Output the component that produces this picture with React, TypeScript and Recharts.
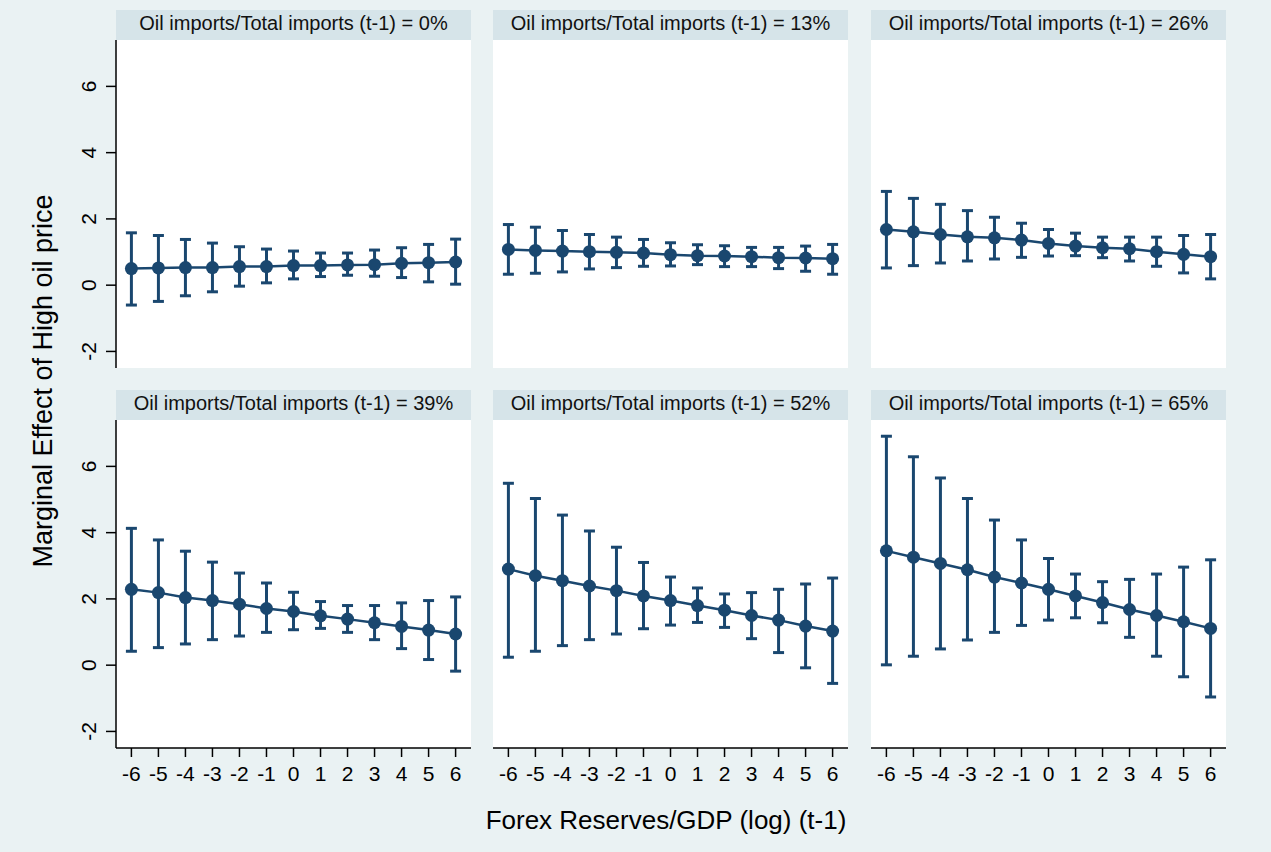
import { LineChart, Line, XAxis, YAxis, ErrorBar } from 'recharts'

const navy = '#1a476f'

// x values: Forex Reserves/GDP (log) (t-1)
const xValues = [-6, -5, -4, -3, -2, -1, 0, 1, 2, 3, 4, 5, 6]
const xTicks = [-6, -5, -4, -3, -2, -1, 0, 1, 2, 3, 4, 5, 6]
const yTicks = [-2, 0, 2, 4, 6]

const panelTitles = [
  'Oil imports/Total imports (t-1) = 0%',
  'Oil imports/Total imports (t-1) = 13%',
  'Oil imports/Total imports (t-1) = 26%',
  'Oil imports/Total imports (t-1) = 39%',
  'Oil imports/Total imports (t-1) = 52%',
  'Oil imports/Total imports (t-1) = 65%',
]

// marginal effects + 95% CI bounds per panel
const est0 = [0.5, 0.52, 0.53, 0.53, 0.56, 0.56, 0.59, 0.59, 0.61, 0.62, 0.66, 0.68, 0.7]
const hi0 = [1.58, 1.5, 1.38, 1.27, 1.16, 1.09, 1.03, 0.97, 0.97, 1.06, 1.13, 1.23, 1.39]
const lo0 = [-0.6, -0.49, -0.32, -0.2, -0.03, 0.07, 0.19, 0.26, 0.3, 0.27, 0.23, 0.1, 0.03]

const est13 = [1.08, 1.05, 1.03, 1.01, 0.99, 0.97, 0.92, 0.89, 0.88, 0.86, 0.83, 0.82, 0.8]
const hi13 = [1.83, 1.75, 1.65, 1.53, 1.45, 1.38, 1.28, 1.22, 1.19, 1.14, 1.14, 1.18, 1.23]
const lo13 = [0.33, 0.36, 0.4, 0.49, 0.53, 0.57, 0.58, 0.62, 0.56, 0.56, 0.5, 0.42, 0.33]

const est26 = [1.68, 1.61, 1.53, 1.46, 1.43, 1.36, 1.26, 1.18, 1.13, 1.1, 1.01, 0.93, 0.86]
const hi26 = [2.83, 2.62, 2.44, 2.25, 2.05, 1.87, 1.68, 1.57, 1.45, 1.45, 1.45, 1.5, 1.53]
const lo26 = [0.52, 0.59, 0.67, 0.73, 0.79, 0.84, 0.88, 0.89, 0.83, 0.73, 0.57, 0.37, 0.19]

const est39 = [2.29, 2.19, 2.04, 1.95, 1.84, 1.71, 1.62, 1.49, 1.39, 1.28, 1.17, 1.06, 0.94]
const hi39 = [4.13, 3.78, 3.44, 3.11, 2.78, 2.48, 2.2, 1.92, 1.8, 1.8, 1.88, 1.95, 2.06]
const lo39 = [0.42, 0.53, 0.64, 0.77, 0.88, 0.99, 1.07, 1.11, 0.99, 0.77, 0.5, 0.17, -0.18]

const est52 = [2.9, 2.7, 2.55, 2.39, 2.25, 2.09, 1.95, 1.8, 1.66, 1.5, 1.36, 1.18, 1.03]
const hi52 = [5.49, 5.03, 4.53, 4.05, 3.56, 3.1, 2.66, 2.33, 2.15, 2.19, 2.29, 2.45, 2.63]
const lo52 = [0.24, 0.42, 0.59, 0.77, 0.94, 1.1, 1.21, 1.29, 1.14, 0.8, 0.38, -0.08, -0.55]

const est65 = [3.45, 3.26, 3.07, 2.88, 2.66, 2.48, 2.29, 2.09, 1.89, 1.68, 1.5, 1.31, 1.11]
const hi65 = [6.91, 6.29, 5.65, 5.03, 4.38, 3.78, 3.22, 2.75, 2.52, 2.59, 2.75, 2.96, 3.18]
const lo65 = [0.01, 0.27, 0.49, 0.76, 0.99, 1.2, 1.36, 1.43, 1.28, 0.84, 0.27, -0.35, -0.96]

const buildRows = (est: number[], hi: number[], lo: number[]) =>
  xValues.map((x, i) => ({ x, y: est[i], err: [est[i] - lo[i], hi[i] - est[i]] }))

const panels = [
  buildRows(est0, hi0, lo0),
  buildRows(est13, hi13, lo13),
  buildRows(est26, hi26, lo26),
  buildRows(est39, hi39, lo39),
  buildRows(est52, hi52, lo52),
  buildRows(est65, hi65, lo65),
]

const colLeft = [116, 493, 871]
const rowTop = [40, 420]
const plotW = 355
const plotH = 328
const yAxisW = 50
const xAxisH = 50

function RotatedTick(props: any) {
  const { x, y, payload } = props
  return (
    <text x={x} y={y} transform={`rotate(-90 ${x} ${y})`} textAnchor="middle" fontSize={21} fill="#000">
      {payload.value}
    </text>
  )
}

function XTick(props: any) {
  const { x, y, payload } = props
  return (
    <text x={x} y={y + 22} textAnchor="middle" fontSize={21} fill="#000">
      {payload.value}
    </text>
  )
}

function Panel({ idx }: { idx: number }) {
  const col = idx % 3
  const row = Math.floor(idx / 3)
  const showY = col === 0
  const showX = row === 1
  const left = colLeft[col]
  const top = rowTop[row]
  return (
    <>
      <div style={{ position: 'absolute', left, top: top - 30, width: plotW, height: 30, background: '#d6e4e9', textAlign: 'center', fontSize: 20, lineHeight: '27px', color: '#111' }}>
        {panelTitles[idx]}
      </div>
      <div style={{ position: 'absolute', left, top, width: plotW, height: plotH, background: '#fff' }} />
      <div style={{ position: 'absolute', left: showY ? left - yAxisW : left, top }}>
        <LineChart
          width={plotW + (showY ? yAxisW : 0)}
          height={plotH + (showX ? xAxisH : 0)}
          data={panels[idx]}
          margin={{ top: 0, right: 0, bottom: 0, left: 0 }}
        >
          <XAxis
            dataKey="x"
            type="number"
            domain={[-6.57, 6.57]}
            ticks={xTicks}
            allowDataOverflow
            hide={!showX}
            height={xAxisH}
            axisLine={{ stroke: '#000', strokeWidth: 1.5 }}
            tickLine={{ stroke: '#000', strokeWidth: 1.5 }}
            tickSize={9}
            tickMargin={2}
            tick={<XTick />}
          />
          <YAxis
            type="number"
            domain={[-2.5, 7.4]}
            ticks={yTicks}
            allowDataOverflow
            hide={!showY}
            width={yAxisW}
            axisLine={{ stroke: '#000', strokeWidth: 1.5 }}
            tickLine={{ stroke: '#000', strokeWidth: 1.5 }}
            tickSize={10}
            tickMargin={10}
            tick={<RotatedTick />}
          />
          <Line
            dataKey="y"
            stroke={navy}
            strokeWidth={2.5}
            dot={{ r: 6.5, fill: navy, stroke: navy, strokeWidth: 0 }}
            activeDot={false}
            isAnimationActive={false}
          >
            <ErrorBar dataKey="err" direction="y" width={5.5} stroke={navy} strokeWidth={3} isAnimationActive={false} />
          </Line>
        </LineChart>
      </div>
    </>
  )
}

export default function App() {
  return (
    <div style={{ position: 'absolute', left: 0, top: 0, width: 1271, height: 852, background: '#eaf2f3', fontFamily: '"Liberation Sans", Arial, sans-serif', overflow: 'hidden' }}>
      {panels.map((_, i) => (
        <Panel key={i} idx={i} />
      ))}
      <div style={{ position: 'absolute', left: 43 - 250, top: 381 - 17, width: 500, height: 34, lineHeight: '34px', textAlign: 'center', fontSize: 27, color: '#000', transform: 'rotate(-90deg)' }}>
        Marginal Effect of High oil price
      </div>
      <div style={{ position: 'absolute', left: 416, top: 803, width: 500, height: 34, lineHeight: '34px', textAlign: 'center', fontSize: 26, color: '#000' }}>
        Forex Reserves/GDP (log) (t-1)
      </div>
    </div>
  )
}
